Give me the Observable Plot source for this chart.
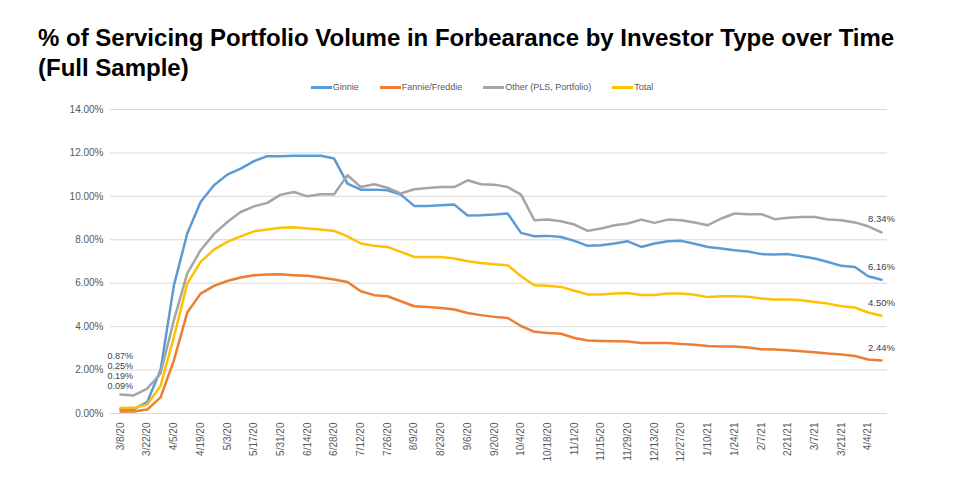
<!DOCTYPE html>
<html>
<head>
<meta charset="utf-8">
<script src="https://cdn.jsdelivr.net/npm/d3@7"></script>
<script src="https://cdn.jsdelivr.net/npm/@observablehq/plot@0.6"></script>
<style>
  body { margin: 0; background: #fff; }
  #wrap { position: relative; width: 960px; height: 477px; overflow: hidden; background: #fff;
          font-family: "Liberation Sans", Arial, sans-serif; }
  #title { position: absolute; left: 38px; top: 23px; font-size: 24px; line-height: 30px;
           font-weight: bold; color: #000; white-space: nowrap; }
  #legend { position: absolute; top: 80px; left: 0; width: 964px; height: 14px;
            display: flex; justify-content: center; align-items: center; gap: 21px;
            font-size: 9px; color: #595959; }
  #legend .item { display: flex; align-items: center; }
  #legend .sw { width: 21px; height: 3px; margin-right: 1px; }
  #chart { position: absolute; top: 96px; left: 0; }
</style>
</head>
<body>
<div id="wrap">
  <div id="title">% of Servicing Portfolio Volume in Forbearance by Investor Type over Time<br>(Full Sample)</div>
  <div id="legend"></div>
  <div id="chart"></div>
</div>
<script>
const weeks = ["3/8/20","3/15/20","3/22/20","3/29/20","4/5/20","4/12/20","4/19/20","4/26/20",
  "5/3/20","5/10/20","5/17/20","5/24/20","5/31/20","6/7/20","6/14/20","6/21/20","6/28/20",
  "7/5/20","7/12/20","7/19/20","7/26/20","8/2/20","8/9/20","8/16/20","8/23/20","8/30/20",
  "9/6/20","9/13/20","9/20/20","9/27/20","10/4/20","10/11/20","10/18/20","10/25/20",
  "11/1/20","11/8/20","11/15/20","11/22/20","11/29/20","12/6/20","12/13/20","12/20/20","12/27/20",
  "1/3/21","1/10/21","1/17/21","1/24/21","1/31/21","2/7/21","2/14/21","2/21/21","2/28/21",
  "3/7/21","3/14/21","3/21/21","3/28/21","4/4/21","4/11/21"];

const series = ["Ginnie", "Fannie/Freddie", "Other (PLS, Portfolio)", "Total"];
const colors = ["#5B9BD5", "#ED7D31", "#A5A5A5", "#FFC000"];

const ginnie = [0.19,0.20,0.53,2.00,5.90,8.29,9.74,10.51,11.00,11.28,11.62,11.85,11.85,11.87,11.87,11.87,11.74,10.59,10.31,10.31,
  10.28,10.08,9.56,9.56,9.59,9.62,9.12,9.13,9.16,9.21,8.32,8.16,8.18,8.13,7.95,7.72,7.75,7.83,7.93,7.67,
  7.83,7.93,7.95,7.82,7.67,7.60,7.52,7.46,7.34,7.32,7.34,7.24,7.14,6.98,6.80,6.75,6.32,6.16];
const fannie = [0.09,0.09,0.18,0.74,2.45,4.65,5.52,5.88,6.10,6.26,6.37,6.40,6.41,6.37,6.34,6.26,6.17,6.06,5.63,5.45,
  5.40,5.17,4.94,4.91,4.86,4.79,4.63,4.53,4.45,4.40,4.03,3.76,3.71,3.67,3.48,3.36,3.34,3.33,3.32,3.25,
  3.25,3.25,3.20,3.17,3.11,3.08,3.08,3.04,2.96,2.95,2.91,2.87,2.82,2.76,2.72,2.65,2.49,2.44];
const other = [0.87,0.83,1.15,1.84,4.30,6.45,7.52,8.26,8.82,9.28,9.54,9.70,10.08,10.20,10.00,10.10,10.10,10.97,10.43,10.56,
  10.40,10.13,10.33,10.39,10.43,10.43,10.74,10.56,10.54,10.43,10.08,8.90,8.93,8.85,8.70,8.41,8.52,8.67,8.75,8.93,
  8.78,8.93,8.90,8.80,8.67,8.98,9.21,9.18,9.18,8.95,9.02,9.05,9.05,8.93,8.90,8.80,8.62,8.34];
const total = [0.25,0.26,0.41,1.27,3.53,5.98,6.98,7.55,7.90,8.16,8.39,8.47,8.55,8.58,8.52,8.47,8.41,8.16,7.83,7.72,
  7.67,7.44,7.21,7.21,7.21,7.14,7.01,6.93,6.87,6.83,6.32,5.91,5.88,5.83,5.65,5.48,5.48,5.53,5.55,5.46,
  5.46,5.53,5.53,5.47,5.36,5.40,5.40,5.38,5.30,5.25,5.25,5.22,5.14,5.06,4.94,4.88,4.65,4.50];

const yTicks = [0, 2, 4, 6, 8, 10, 12, 14];
const xTicks = weeks.filter((w, i) => i % 2 === 0);

// build table
const valuesBySeries = [ginnie, fannie, other, total];
const rows = series.flatMap((s, k) => weeks.map((w, i) => ({series: s, week: w, value: valuesBySeries[k][i]})));
const pct = v => v.toFixed(2) + "%";

// legend
const legend = document.getElementById("legend");
series.forEach((s, k) => {
  const item = document.createElement("div");
  item.className = "item";
  const sw = document.createElement("div");
  sw.className = "sw";
  sw.style.background = colors[k];
  const t = document.createElement("span");
  t.textContent = s;
  item.appendChild(sw); item.appendChild(t);
  legend.appendChild(item);
});

// start labels (stacked above the first point) and end labels
const firstIdx = 0, lastIdx = weeks.length - 1;
const startOffsets = {"Other (PLS, Portfolio)": -38.4, "Total": -41.9, "Ginnie": -33.2, "Fannie/Freddie": -25.3};
const labelMarks = [];
series.forEach((s, k) => {
  const v0 = valuesBySeries[k][firstIdx];
  labelMarks.push(Plot.text([{week: weeks[firstIdx], value: v0}], {
    x: "week", y: "value", text: d => pct(d.value), textAnchor: "start",
    dx: -13, dy: startOffsets[s], fill: "#404040", fontSize: 9
  }));
  const v1 = valuesBySeries[k][lastIdx];
  labelMarks.push(Plot.text([{week: weeks[lastIdx], value: v1}], {
    x: "week", y: "value", text: d => pct(d.value), textAnchor: "middle",
    dx: 0, dy: -13, fill: "#404040", fontSize: 9.5
  }));
});

const chart = Plot.plot({
  width: 960,
  height: 381,
  marginTop: 13,
  marginBottom: 64,
  marginLeft: 120,
  marginRight: 79,
  style: {fontFamily: "'Liberation Sans', Arial, sans-serif", fontSize: "10px", color: "#595959", background: "transparent"},
  x: {type: "point", domain: weeks, padding: 0, round: false, ticks: xTicks, tickRotate: -90, tickSize: 0, tickPadding: 9, label: null},
  y: {domain: [0, 14], ticks: yTicks, tickFormat: pct, tickSize: 0, tickPadding: 17, label: null},
  color: {domain: series, range: colors},
  marks: [
    Plot.ruleY(yTicks, {stroke: "#d9d9d9", strokeWidth: 1, insetLeft: -10, insetRight: -6}),
    Plot.line(rows, {x: "week", y: "value", z: "series", stroke: "series", strokeWidth: 2.5}),
    ...labelMarks
  ]
});
document.getElementById("chart").appendChild(chart);
</script>
</body>
</html>
